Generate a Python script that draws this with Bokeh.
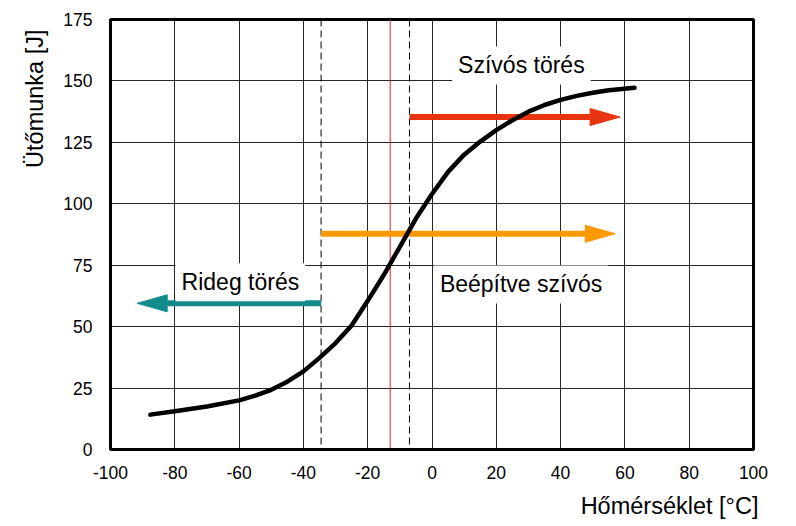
from bokeh.plotting import figure
from bokeh.models import Range1d, FixedTicker, Span, Label, Title
from bokeh.embed import file_html
from bokeh.resources import INLINE

# ---- data ----
temp = [-87.6, -80, -70, -60, -55, -50, -45, -40, -35, -30, -25, -20, -15, -10, -5, 0, 5, 10, 15, 20, 25, 30, 35, 40, 45, 50, 55, 63]
energy = [14.2, 15.6, 17.5, 20, 21.9, 24.3, 27.6, 31.8, 37.3, 43.3, 50.5, 60.5, 71, 82.5, 94, 104, 113, 120, 125.3, 130, 134, 137.5, 140.2, 142.3, 143.9, 145.2, 146.2, 147.2]

x_ticks = [-100, -80, -60, -40, -20, 0, 20, 40, 60, 80, 100]
x_tick_labels = ["-100", "-80", "-60", "-40", "-20", "0", "20", "40", "60", "80", "100"]
y_ticks = [0, 25, 50, 75, 100, 125, 150, 175]
y_tick_labels = ["0", "25", "50", "75", "100", "125", "150", "175"]

dashed_x = [-34.5, -7]
red_x = -13

arrow_x0 = [-7, -34.5, -34.5]
arrow_x1 = [58.5, 57, -91.7]
arrow_y = [135.3, 87.8, 59.5]
arrow_colors = ["#e8350f", "#fd9a03", "#118b8c"]

label_texts = ["Szívós törés", "Rideg törés", "Beépítve szívós"]
label_x = [27.8, -59.6, 27.7]
label_y = [156.3, 68.1, 67.2]

x_title = "Hőmérséklet [°C]"
y_title = "Ütőmunka [J]"

FONT = "Liberation Sans"
FW, FH = 643, 430
XR = (-100, 100)
YR = (0, 175)

p = figure(frame_width=FW, frame_height=FH,
           min_border_left=110, min_border_right=43, min_border_top=19, min_border_bottom=77,
           x_range=Range1d(*XR), y_range=Range1d(*YR),
           output_backend="svg", toolbar_location=None,
           background_fill_color="white", border_fill_color="white")

p.outline_line_color = "black"
p.outline_line_width = 3

for ax, ticks, labels in ((p.xaxis[0], x_ticks, x_tick_labels), (p.yaxis[0], y_ticks, y_tick_labels)):
    ax.ticker = FixedTicker(ticks=ticks)
    ax.major_label_overrides = {t: l for t, l in zip(ticks, labels)}
    ax.major_tick_line_color = None
    ax.minor_tick_line_color = None
    ax.axis_line_color = "black"
    ax.axis_line_width = 3
    ax.major_label_text_font = FONT
    ax.major_label_text_font_size = "17.5px"
    ax.major_label_text_color = "black"

p.xaxis.major_label_standoff = 10
p.yaxis.major_label_standoff = 12

p.xgrid.ticker = FixedTicker(ticks=x_ticks)
p.ygrid.ticker = FixedTicker(ticks=y_ticks)
for g in (p.xgrid[0], p.ygrid[0]):
    g.grid_line_color = "black"
    g.grid_line_alpha = 0.85
    g.grid_line_width = 1

for xv in dashed_x:
    p.add_layout(Span(location=xv, dimension="height", line_color="black",
                      line_width=1, line_dash="7 4", level="underlay"))
p.add_layout(Span(location=red_x, dimension="height", line_color="#e02424",
                  line_width=1, level="underlay"))

# pixel scale of the frame
sx = FW / (XR[1] - XR[0])
sy = FH / (YR[1] - YR[0])

# arrows: shaft + triangular head sized in screen pixels
head_len_px, head_half_px = 30, 8.5
for x0, x1, y, c in zip(arrow_x0, arrow_x1, arrow_y, arrow_colors):
    d = 1 if x1 > x0 else -1
    base = x1 - d * head_len_px / sx
    p.line([x0, base], [y, y], line_color=c, line_width=6)
    p.patch([base, x1, base], [y - head_half_px / sy, y, y + head_half_px / sy],
            fill_color=c, line_color=c, line_width=1)

p.line(temp, energy, line_color="black", line_width=4.5, line_cap="round", line_join="round")

for t, lx, ly in zip(label_texts, label_x, label_y):
    p.add_layout(Label(x=lx, y=ly, text=t, text_align="center", text_baseline="middle",
                       text_font=FONT, text_font_size="23px", text_color="black",
                       background_fill_color="white", padding=6))

# axis titles, end-aligned like the reference
p.add_layout(Title(text=x_title, align="right", offset=-5, standoff=19,
                   text_font=FONT, text_font_size="23.5px", text_font_style="normal",
                   text_color="black"), "below")
p.add_layout(Title(text=y_title, align="right", offset=10, standoff=26,
                   text_font=FONT, text_font_size="23.5px", text_font_style="normal",
                   text_color="black"), "left")

open("out.html", "w").write(file_html(p, INLINE))
